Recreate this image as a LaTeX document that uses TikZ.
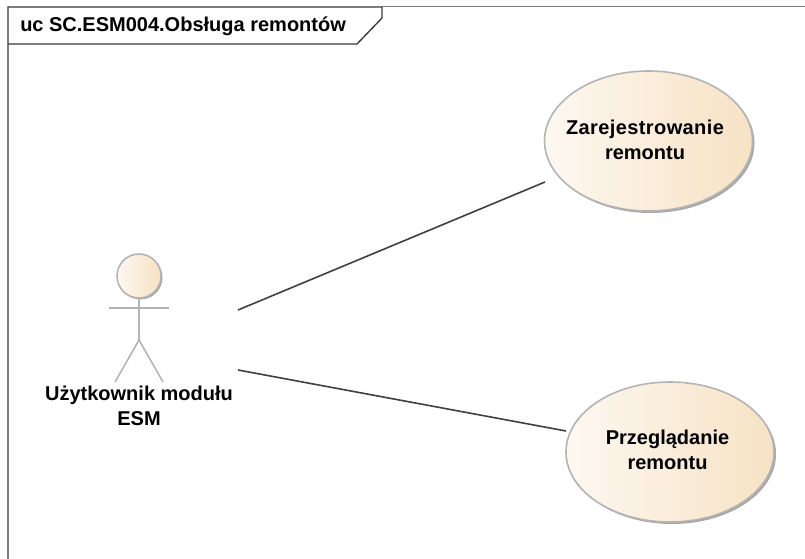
\documentclass[tikz,border=0pt]{standalone}
\usepackage{fontspec}
\setmainfont{Liberation Sans}
\usetikzlibrary{shapes.geometric}
\definecolor{framec}{HTML}{383838}
\definecolor{topc}{HTML}{7A7A7A}
\definecolor{edgec}{HTML}{B4B4B4}
\definecolor{shadowc}{HTML}{A8A8A8}
\definecolor{linkc}{HTML}{404040}
\definecolor{fillL}{HTML}{FDF8F1}
\definecolor{fillR}{HTML}{F7E2C4}
\tikzset{
  x=0.75pt,y=-0.75pt,
  lbl/.style={font=\bfseries\fontsize{15}{19}\selectfont,text=black,align=center,inner sep=0pt},
  usecase/.style={ellipse,draw=edgec,line width=1.2pt,left color=fillL,right color=fillR,
    minimum width=156pt,minimum height=105pt,inner sep=0pt,outer sep=0pt},
  shadowell/.style={ellipse,fill=shadowc,minimum width=156pt,minimum height=105pt,inner sep=0pt,draw=none},
  stick/.style={draw=edgec,line width=1.2pt},
  assoc/.style={draw=linkc,line width=1.2pt},
  framel/.style={draw=framec,line width=1pt}
}
\begin{document}
\begin{tikzpicture}
\useasboundingbox (0,0) rectangle (805,559);
\fill[white] (0,0) rectangle (805,559);
% frame
\draw[draw=topc,line width=1.3pt] (382,6.5) -- (805,6.5);
\draw[framel] (8,559) -- (8,7) -- (382,7) -- (382,18) -- (357,44) -- (8,44);
\node[lbl,anchor=west] (title) at (20,26) {uc SC.ESM004.Obsługa remontów};
% use cases
\node[shadowell] at (650.5,143) {};
\node[usecase] (uca) at (648.5,141) {};
\node[lbl] (ucatext) at (645,140) {\addfontfeature{LetterSpace=2}Zarejestrowanie\\remontu};
\node[shadowell] at (672,454) {};
\node[usecase] (ucb) at (670,452) {};
\node[lbl] (ucbtext) at (667.5,450) {Przeglądanie\\remontu};
% actor
\fill[shadowc] (140.5,277.5) circle[radius=22];
\node[circle,draw=edgec,line width=1.2pt,left color=fillL,right color=fillR,minimum size=33pt,inner sep=0pt,outer sep=0pt] (head) at (139,276) {};
\coordinate (arml) at (109,308);
\coordinate (armr) at (169,308);
\coordinate (hip) at (139,340);
\coordinate (legl) at (115,382);
\coordinate (legr) at (163,382);
\draw[stick] (head) -- (hip);
\draw[stick] (arml) -- (armr);
\draw[stick] (legl) -- (hip) -- (legr);
\node[lbl] (actor) at (139,406) {Użytkownik modułu\\ESM};
% associations
\coordinate (a1) at (238,310);
\coordinate (a2) at (238,370);
\coordinate (b1) at (545,182);
\coordinate (b2) at (566,431);
\draw[assoc] (a1) -- (b1);
\draw[assoc] (a2) -- (b2);
\end{tikzpicture}
\end{document}
